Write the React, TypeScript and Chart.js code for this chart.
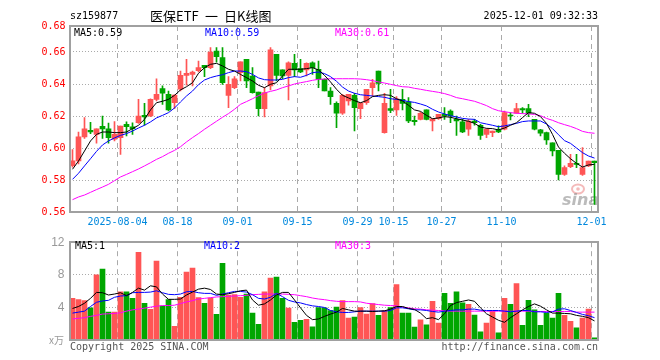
import React, { useEffect, useRef } from 'react';
import Chart from 'chart.js/auto';

// ---------- data ----------
const DATES = [
  '2025-07-23','2025-07-24','2025-07-25','2025-07-28','2025-07-29','2025-07-30','2025-07-31','2025-08-01',
  '2025-08-04','2025-08-05','2025-08-06','2025-08-07','2025-08-08','2025-08-11','2025-08-12','2025-08-13',
  '2025-08-14','2025-08-15','2025-08-18','2025-08-19','2025-08-20','2025-08-21','2025-08-22','2025-08-25',
  '2025-08-26','2025-08-27','2025-08-28','2025-08-29','2025-09-01','2025-09-02','2025-09-03','2025-09-04',
  '2025-09-05','2025-09-08','2025-09-09','2025-09-10','2025-09-11','2025-09-12','2025-09-15','2025-09-16',
  '2025-09-17','2025-09-18','2025-09-19','2025-09-22','2025-09-23','2025-09-24','2025-09-25','2025-09-26',
  '2025-09-29','2025-09-30','2025-10-09','2025-10-10','2025-10-13','2025-10-14','2025-10-15','2025-10-16',
  '2025-10-17','2025-10-20','2025-10-21','2025-10-22','2025-10-23','2025-10-24','2025-10-27','2025-10-28',
  '2025-10-29','2025-10-30','2025-10-31','2025-11-03','2025-11-04','2025-11-05','2025-11-06','2025-11-07',
  '2025-11-10','2025-11-11','2025-11-12','2025-11-13','2025-11-14','2025-11-17','2025-11-18','2025-11-19',
  '2025-11-20','2025-11-21','2025-11-24','2025-11-25','2025-11-26','2025-11-27','2025-11-28','2025-12-01',
];

const TICK_DATES = ['2025-08-04','2025-08-18','2025-09-01','2025-09-15','2025-09-29','2025-10-15','2025-10-27','2025-11-10','2025-12-01'];
const TICK_TEXTS = ['2025-08-04','08-18','09-01','09-15','09-29','10-15','10-27','11-10','12-01'];

const OPEN = [
  0.589,0.592,0.607,0.611,0.6085,0.6135,0.612,0.6055,0.6065,0.6148,0.6133,0.6158,0.6204,0.620,0.6304,0.6371,
  0.6335,0.6283,0.6367,0.6454,0.646,0.6483,0.6517,0.6502,0.6606,0.6565,0.6329,0.6377,0.6471,0.6554,0.645,0.635,
  0.6246,0.6388,0.6585,0.6488,0.6454,0.6529,0.6496,0.6488,0.6533,0.6492,0.6429,0.6356,0.6279,0.6217,0.6294,0.6329,
  0.6246,0.6283,0.6377,0.6481,0.6096,0.6246,0.6238,0.6304,0.6288,0.6173,0.6179,0.6238,0.6169,0.6183,0.621,0.6231,
  0.6179,0.6163,0.6117,0.6169,0.6142,0.6085,0.6096,0.6113,0.6117,0.6206,0.6217,0.6246,0.6246,0.6179,0.6113,0.6096,
  0.6033,0.5985,0.5835,0.5883,0.5904,0.5835,0.5888,0.5919,
];
const HIGH = [
  0.599,0.610,0.619,0.616,0.612,0.620,0.6155,0.6165,0.6137,0.6163,0.6158,0.6304,0.6279,0.6308,0.6433,0.6388,
  0.6356,0.6333,0.6481,0.6554,0.6481,0.6544,0.6517,0.6627,0.6627,0.6627,0.6446,0.6446,0.6538,0.6554,0.6502,0.635,
  0.6377,0.6627,0.6585,0.6488,0.6538,0.6585,0.6554,0.6533,0.6538,0.6544,0.6433,0.6377,0.6288,0.6335,0.6335,0.6342,
  0.6283,0.6367,0.6429,0.6481,0.6342,0.6367,0.6321,0.6367,0.6315,0.620,0.6225,0.6238,0.6183,0.621,0.6252,0.6238,
  0.620,0.6179,0.6179,0.6179,0.6148,0.6121,0.6106,0.6138,0.6231,0.6221,0.6279,0.6252,0.6273,0.6179,0.6117,0.610,
  0.6033,0.5985,0.5888,0.596,0.596,0.6002,0.5919,0.5919,
];
const LOW = [
  0.588,0.590,0.606,0.609,0.603,0.606,0.603,0.6045,0.596,0.6075,0.6085,0.6154,0.6142,0.6196,0.6294,0.6273,
  0.6231,0.6246,0.6356,0.6392,0.6388,0.6475,0.6446,0.6496,0.6537,0.6398,0.6252,0.6371,0.6419,0.6377,0.6342,0.620,
  0.6194,0.6363,0.6419,0.6433,0.630,0.6446,0.6471,0.645,0.646,0.6377,0.6356,0.6273,0.6127,0.621,0.6267,0.6106,
  0.6183,0.6273,0.6325,0.6356,0.6092,0.6221,0.6204,0.6238,0.6158,0.6142,0.6175,0.6175,0.6106,0.6179,0.6179,0.6158,
  0.6079,0.6096,0.6079,0.6142,0.6054,0.6065,0.6071,0.6096,0.6113,0.6175,0.6217,0.6217,0.6196,0.6113,0.6075,0.6023,
  0.595,0.580,0.5829,0.5877,0.5877,0.5829,0.5883,0.5648,
];
const CLOSE = [
  0.592,0.607,0.612,0.610,0.612,0.612,0.6065,0.6085,0.6137,0.6133,0.6121,0.620,0.6194,0.6304,0.6335,0.6342,
  0.6238,0.6331,0.6454,0.6467,0.6475,0.6502,0.6502,0.660,0.6571,0.6408,0.6398,0.6433,0.6538,0.6419,0.6346,0.6246,
  0.6346,0.6613,0.6454,0.645,0.6533,0.6488,0.6475,0.6529,0.6502,0.6429,0.6356,0.6321,0.6217,0.6329,0.6335,0.6252,
  0.6283,0.6367,0.6408,0.6404,0.6279,0.6235,0.6308,0.6279,0.6169,0.6165,0.6217,0.6179,0.6183,0.621,0.620,0.620,
  0.6169,0.610,0.6169,0.6158,0.6079,0.6117,0.6106,0.610,0.6221,0.620,0.6246,0.6238,0.6217,0.6117,0.6092,0.605,
  0.5981,0.5835,0.5877,0.5904,0.5898,0.5877,0.5919,0.5908,
];

const MA5 = [
  0.5867,0.5919,0.5981,0.6044,0.6085,0.61,0.61,0.6096,0.6096,0.61,0.6121,0.6142,0.6179,0.6238,0.6283,0.6292,
  0.6304,0.6329,0.6363,0.6383,0.6408,0.6467,0.6502,0.6523,0.6529,0.6513,0.6492,0.6481,0.646,0.644,0.6419,0.6392,
  0.6377,0.6398,0.6408,0.645,0.6492,0.6492,0.6492,0.6496,0.6502,0.6488,0.6454,0.6413,0.6367,0.6329,0.6313,0.6296,
  0.6283,0.6296,0.6321,0.6329,0.6333,0.6329,0.6308,0.6294,0.6267,0.6238,0.6229,0.6204,0.6183,0.6188,0.6196,0.6192,
  0.6183,0.6175,0.6167,0.6154,0.6131,0.6123,0.6121,0.6113,0.6125,0.6142,0.6158,0.619,0.6221,0.6217,0.6196,0.6154,
  0.6085,0.6006,0.5967,0.5933,0.5904,0.5881,0.5894,0.5898,
];
const MA10 = [
  0.5804,0.5842,0.5888,0.5933,0.5979,0.6019,0.6044,0.6063,0.6079,0.609,0.6106,0.6125,0.6142,0.6163,0.6188,0.6204,
  0.6221,0.625,0.6288,0.6325,0.6356,0.6396,0.6425,0.644,0.645,0.6458,0.6471,0.6481,0.6481,0.6477,0.646,0.6438,
  0.6427,0.6425,0.6425,0.6429,0.644,0.6446,0.6442,0.6454,0.6471,0.6475,0.6465,0.6446,0.6417,0.6381,0.6356,0.6342,
  0.6333,0.6329,0.6325,0.6321,0.6317,0.6308,0.6304,0.6298,0.629,0.6285,0.6275,0.6263,0.6242,0.6225,0.6213,0.6202,
  0.6194,0.6185,0.6181,0.6179,0.6158,0.615,0.6142,0.6133,0.6138,0.6146,0.6154,0.6165,0.6169,0.6169,0.6169,0.615,
  0.6121,0.6083,0.6046,0.6029,0.60,0.5971,0.595,0.5937,
];
const MA30 = [
  0.5677,0.5694,0.5706,0.5723,0.574,0.5756,0.5773,0.5796,0.5819,0.5835,0.5852,0.5869,0.5888,0.5908,0.5929,0.5946,
  0.5967,0.5985,0.6008,0.6038,0.6065,0.609,0.6117,0.6142,0.6167,0.6192,0.6215,0.6242,0.6273,0.629,0.6308,0.6327,
  0.6344,0.6354,0.6363,0.6377,0.6388,0.64,0.6408,0.6415,0.6423,0.6429,0.6431,0.6433,0.6433,0.6433,0.6433,0.6433,
  0.6431,0.6427,0.6421,0.6413,0.6406,0.6398,0.639,0.6383,0.6381,0.6373,0.6367,0.636,0.6354,0.6348,0.634,0.6329,
  0.6315,0.6308,0.63,0.6292,0.6279,0.6265,0.6246,0.6233,0.6227,0.6221,0.6217,0.6215,0.6213,0.621,0.6202,0.6185,
  0.6173,0.6158,0.6146,0.6135,0.6121,0.6104,0.6096,0.6092,
];

const VOLUME = [
  5.11,4.95,4.83,3.95,8.01,8.7,3.42,3.42,5.92,5.92,5.11,10.75,4.51,3.75,9.67,4.15,
  4.95,1.69,5.24,8.34,8.82,5.2,4.51,5.15,3.14,9.42,5.52,5.56,5.24,5.64,3.3,1.93,
  5.92,7.61,7.73,5.11,3.91,2.17,2.42,2.54,1.61,3.99,3.95,3.62,4.03,4.83,2.7,2.82,
  3.99,3.18,4.47,3.02,3.58,3.99,6.81,3.3,3.3,1.57,2.46,1.85,4.75,2.09,5.72,4.51,
  5.92,4.55,4.39,3.06,1.0,2.09,3.62,0.89,5.11,4.39,6.93,1.81,4.87,3.7,1.81,3.3,
  2.7,5.72,3.02,2.3,1.49,2.7,3.79,0.28,
];
const VMA5 = [
  3.87,4.11,4.51,5.11,5.84,5.8,5.52,5.64,5.8,5.44,5.84,6.36,6.12,6.65,6.52,5.64,
  4.99,4.99,5.03,5.52,5.88,6.24,6.36,6.2,5.64,5.56,5.68,5.84,6.04,6.12,4.91,4.27,
  4.43,4.91,5.52,5.84,5.84,4.91,3.95,3.02,2.5,2.58,2.9,3.18,3.42,3.87,3.7,3.54,
  3.54,3.54,3.5,3.54,3.58,3.79,4.11,4.11,3.87,3.75,3.3,2.62,2.74,2.5,3.22,4.23,
  4.59,4.75,4.91,4.75,3.95,3.22,2.82,2.42,2.17,2.74,3.22,3.7,4.11,4.43,4.15,3.7,
  3.3,3.3,3.26,3.22,3.02,2.9,2.74,2.34,
];
const VMA10 = [
  3.3,3.42,3.54,4.11,4.63,4.79,4.87,5.24,5.4,5.44,5.8,5.84,5.84,5.88,6.04,5.8,
  5.6,5.56,5.64,5.92,5.96,5.8,5.72,5.72,5.48,5.64,5.8,5.96,5.96,5.88,5.56,5.11,
  5.03,5.24,5.72,5.32,4.87,4.67,4.55,4.35,4.19,4.11,3.99,3.62,3.46,3.38,3.38,3.46,
  3.54,3.54,3.54,3.54,3.54,3.62,3.95,3.95,3.83,3.7,3.7,3.62,3.5,3.42,3.54,3.62,
  3.7,3.7,3.79,3.79,3.66,3.62,3.62,3.62,3.54,3.46,3.54,3.62,3.62,3.46,3.46,3.38,
  3.46,3.79,3.83,3.62,3.38,3.14,2.98,2.74,
];
const VMA30 = [
  2.58,2.66,2.74,2.9,3.02,3.18,3.22,3.26,3.34,3.54,3.7,3.79,3.91,4.03,4.15,4.23,
  4.23,4.27,4.47,4.67,4.83,5.03,5.11,5.2,5.28,5.32,5.36,5.4,5.44,5.48,5.56,5.6,
  5.64,5.64,5.64,5.64,5.6,5.56,5.44,5.32,5.15,5.03,4.95,4.83,4.75,4.71,4.71,4.71,
  4.67,4.51,4.43,4.35,4.27,4.23,4.19,4.03,3.95,3.83,3.79,3.7,3.66,3.62,3.58,3.54,
  3.54,3.54,3.54,3.54,3.54,3.54,3.54,3.54,3.54,3.54,3.54,3.54,3.54,3.5,3.5,3.5,
  3.5,3.5,3.5,3.5,3.42,3.42,3.42,3.42,
];

const PRICE_TICKS = [0.56, 0.58, 0.60, 0.62, 0.64, 0.66];
const PRICE_MIN = 0.56;
const PRICE_MAX = 0.67625;
const VOL_TICKS = [0, 4, 8, 12];

const CODE = 'sz159877';
const TITLE_PARTS = ['医保ETF', '一', '日K线图'];
const TIMESTAMP = '2025-12-01 09:32:33';
const PRICE_LEGEND = ['MA5:0.59', 'MA10:0.59', 'MA30:0.61'];
const VOL_LEGEND = ['MA5:1', 'MA10:2', 'MA30:3'];
const VOL_UNIT = 'x万';
const COPYRIGHT = 'Copyright 2025 SINA.COM';
const SITE = 'http://finance.sina.com.cn';

// ---------- styles ----------
const MONO = '"DejaVu Sans Mono", "Liberation Mono", monospace';
const UP = '#ff5555';
const DOWN = '#00a600';
const C5 = '#000000';
const C10 = '#0000ff';
const C30 = '#ff00ff';
const GRID = '#aaaaaa';

const candleColors = OPEN.map((o, i) => (CLOSE[i] >= o ? UP : DOWN));
const tickIndex = TICK_DATES.map((d) => DATES.indexOf(d));

function xAxis(showLabels: boolean, height: number) {
  return {
    type: 'category' as const,
    offset: true,
    grid: {
      offset: true,
      drawTicks: false,
      lineWidth: 1,
      color: (c: any) => (tickIndex.includes(c.index) ? GRID : 'rgba(0,0,0,0)'),
    },
    border: { display: false, dash: [5, 4] },
    ticks: {
      display: showLabels,
      autoSkip: false,
      maxRotation: 0,
      minRotation: 0,
      padding: 4,
      labelOffset: -3,
      color: '#0088dd',
      font: { family: MONO, size: 10 },
      callback: (_v: any, i: number) => {
        const k = tickIndex.indexOf(i);
        return k >= 0 ? TICK_TEXTS[k] : '';
      },
    },
    afterFit: (s: any) => { s.height = height; },
  };
}

function lineDs(data: number[], color: string) {
  return {
    type: 'line' as const,
    data,
    borderColor: color,
    borderWidth: 1,
    pointRadius: 0,
    tension: 0,
    fill: false,
    order: 0,
  };
}

export default function App() {
  const mainRef = useRef<HTMLCanvasElement>(null);
  const volRef = useRef<HTMLCanvasElement>(null);

  useEffect(() => {
    if (!mainRef.current || !volRef.current) return;

    const mainDeco = {
      id: 'mainDeco',
      beforeDatasetsDraw(chart: any) {
        const ctx = chart.ctx;
        ctx.save();
        ctx.strokeStyle = 'rgba(235,130,130,0.55)';
        ctx.lineWidth = 2;
        ctx.beginPath();
        ctx.ellipse(578, 189, 6, 4.5, 0, 0, Math.PI * 2);
        ctx.stroke();
        ctx.fillStyle = 'rgba(235,130,130,0.55)';
        ctx.beginPath();
        ctx.arc(578, 189, 1.8, 0, Math.PI * 2);
        ctx.fill();
        ctx.fillStyle = 'rgba(150,150,150,0.65)';
        ctx.font = 'italic bold 16px "DejaVu Sans"';
        ctx.textBaseline = 'middle';
        ctx.fillText('sina', 562, 201);
        ctx.restore();
      },
      afterDraw(chart: any) {
        const ctx = chart.ctx;
        const a = chart.chartArea;
        ctx.save();
        ctx.strokeStyle = '#a0a0a0';
        ctx.lineWidth = 2;
        ctx.strokeRect(Math.round(a.left + 0.5), Math.round(a.top), Math.round(a.right + 0.5) - Math.round(a.left + 0.5), Math.round(a.bottom) - Math.round(a.top));
        ctx.textBaseline = 'middle';
        ctx.font = `10px ${MONO}`;
        ctx.fillStyle = '#000';
        ctx.textAlign = 'left';
        ctx.fillText(CODE, 70, 16);
        ctx.textAlign = 'right';
        ctx.fillText(TIMESTAMP, 598, 16);
        ctx.textAlign = 'left';
        ctx.font = '13px "Noto Sans CJK SC"';
        const tx = [150, 205, 224];
        TITLE_PARTS.forEach((t, i) => ctx.fillText(t, tx[i], 16));
        ctx.font = `10px ${MONO}`;
        const lx = [74, 205, 335];
        const lc = [C5, C10, C30];
        PRICE_LEGEND.forEach((t, i) => { ctx.fillStyle = lc[i]; ctx.fillText(t, lx[i], 33); });
        ctx.restore();
      },
    };

    const volDeco = {
      id: 'volDeco',
      afterDraw(chart: any) {
        const ctx = chart.ctx;
        const a = chart.chartArea;
        ctx.save();
        ctx.strokeStyle = '#a0a0a0';
        ctx.lineWidth = 2;
        ctx.strokeRect(Math.round(a.left + 0.5), Math.round(a.top), Math.round(a.right + 0.5) - Math.round(a.left + 0.5), Math.round(a.bottom) - Math.round(a.top));
        ctx.textBaseline = 'middle';
        ctx.font = `10px ${MONO}`;
        const lx = [75, 204, 335];
        const lc = [C5, C10, C30];
        VOL_LEGEND.forEach((t, i) => { ctx.fillStyle = lc[i]; ctx.fillText(t, lx[i], 16); });
        ctx.fillStyle = '#555';
        ctx.textAlign = 'left';
        ctx.fillText(COPYRIGHT, 70, 117);
        ctx.textAlign = 'right';
        ctx.fillText(SITE, 598, 117);
        ctx.fillStyle = '#999';
        ctx.font = '10px "Noto Sans CJK SC"';
        ctx.fillText(VOL_UNIT, 64, 110);
        ctx.restore();
      },
    };

    const main = new Chart(mainRef.current, {
      type: 'bar',
      data: {
        labels: DATES,
        datasets: [
          lineDs(MA5, C5),
          lineDs(MA10, C10),
          lineDs(MA30, C30),
          {
            type: 'bar',
            data: OPEN.map((o, i) => [o, CLOSE[i]]),
            backgroundColor: candleColors,
            barThickness: 5,
            minBarLength: 1,
            grouped: false,
            order: 1,
          } as any,
          {
            type: 'bar',
            data: LOW.map((l, i) => [l, HIGH[i]]),
            backgroundColor: candleColors,
            barThickness: 1,
            minBarLength: 1,
            grouped: false,
            order: 2,
          } as any,
        ],
      },
      options: {
        responsive: false,
        animation: false,
        events: [],
        layout: { padding: { top: 26, right: 62.5, left: 0, bottom: 0 } },
        plugins: { legend: { display: false }, tooltip: { enabled: false } },
        scales: {
          x: xAxis(true, 18) as any,
          y: {
            type: 'linear',
            min: PRICE_MIN,
            max: PRICE_MAX,
            afterBuildTicks: (s: any) => {
              s.ticks = [...PRICE_TICKS, PRICE_MAX].map((v) => ({ value: v }));
            },
            grid: { color: GRID, drawTicks: false, lineWidth: 1 },
            border: { display: false, dash: [1, 2] },
            ticks: {
              color: '#ff0000',
              padding: 4,
              font: { family: MONO, size: 10 },
              callback: (v: any) => Number(v).toFixed(2),
            },
            afterFit: (s: any) => { s.width = 69.5; },
          } as any,
        },
      },
      plugins: [mainDeco],
    });

    const vol = new Chart(volRef.current, {
      type: 'bar',
      data: {
        labels: DATES,
        datasets: [
          lineDs(VMA5, C5),
          lineDs(VMA10, C10),
          lineDs(VMA30, C30),
          {
            type: 'bar',
            data: VOLUME,
            backgroundColor: candleColors,
            barThickness: 5,
            grouped: false,
            order: 1,
          } as any,
        ],
      },
      options: {
        responsive: false,
        animation: false,
        events: [],
        layout: { padding: { top: 11, right: 62.5, left: 0, bottom: 0 } },
        plugins: { legend: { display: false }, tooltip: { enabled: false } },
        scales: {
          x: xAxis(false, 20) as any,
          y: {
            type: 'linear',
            min: 0,
            max: 12,
            afterBuildTicks: (s: any) => {
              s.ticks = VOL_TICKS.map((v) => ({ value: v }));
            },
            grid: { color: GRID, drawTicks: false, lineWidth: 1 },
            border: { display: false, dash: [1, 2] },
            ticks: {
              color: '#999999',
              padding: 5,
              font: { family: '"Liberation Sans", sans-serif', size: 12 },
              callback: (v: any) => (Number(v) === 0 ? '' : String(v)),
            },
            afterFit: (s: any) => { s.width = 69.5; },
          } as any,
        },
      },
      plugins: [volDeco],
    });

    return () => {
      main.destroy();
      vol.destroy();
    };
  }, []);

  return (
    <div style={{ position: 'absolute', left: 0, top: 0, width: 660, height: 360, background: '#fff' }}>
      <canvas ref={mainRef} width={660} height={230} style={{ position: 'absolute', left: 0, top: 0 }} />
      <canvas ref={volRef} width={660} height={130} style={{ position: 'absolute', left: 0, top: 230 }} />
    </div>
  );
}
